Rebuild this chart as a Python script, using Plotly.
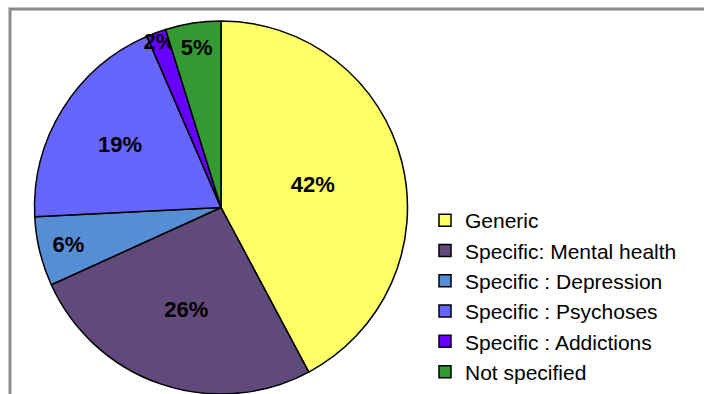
import plotly.graph_objects as go

categories = ["Generic", "Specific: Mental health", "Specific : Depression",
              "Specific : Psychoses", "Specific : Addictions", "Not specified"]
values = [42.2, 26.0, 6.0, 19.3, 1.7, 4.8]
colors = ["#FFFF66", "#604A7B", "#558ED5", "#6666FF", "#6600FF", "#339933"]

W, H = 704, 394
FONT = "Arial, Liberation Sans, sans-serif"

fig = go.Figure(go.Pie(
    labels=categories,
    values=values,
    sort=False,
    direction="clockwise",
    rotation=0,
    marker=dict(colors=colors, line=dict(color="black", width=1.5)),
    texttemplate="%{percent:.0%}",
    textposition="inside",
    insidetextorientation="horizontal",
    textfont=dict(family=FONT, size=22, color="black", weight="bold"),
    hoverinfo="label+percent",
    domain=dict(x=[31 / W, 411 / W], y=[0, 1 - 21 / H]),
))

fig.add_shape(type="rect", xref="paper", yref="paper",
              x0=10 / W, x1=1.2, y0=-0.2, y1=1 - 9 / H,
              line=dict(color="#8C8C8C", width=3), fillcolor="rgba(0,0,0,0)", layer="below")

fig.update_layout(
    width=W, height=H,
    margin=dict(l=0, r=0, t=0, b=0, autoexpand=False),
    paper_bgcolor="white",
    plot_bgcolor="white",
    showlegend=True,
    uniformtext=dict(minsize=22, mode="show"),
    legend=dict(
        x=425 / W, xanchor="left",
        y=1 - 200 / H, yanchor="top",
        font=dict(family=FONT, size=21, color="black"),
        bgcolor="rgba(0,0,0,0)",
        traceorder="normal",
    ),
)

fig.write_html("out.html")
